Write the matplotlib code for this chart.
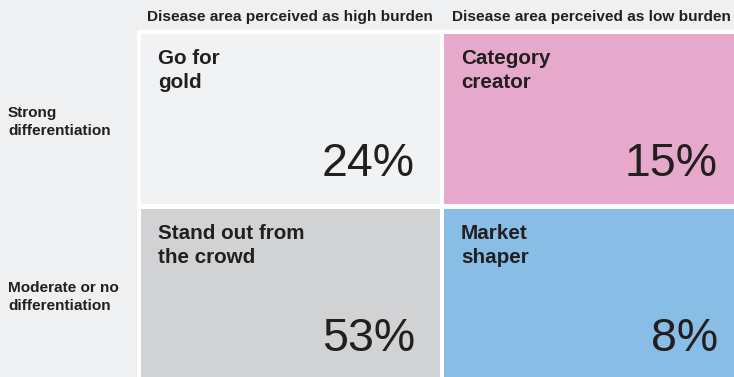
import matplotlib
matplotlib.use('Agg')
import matplotlib.pyplot as plt
from matplotlib.patches import Rectangle

plt.rcParams['font.family'] = ['Liberation Sans', 'DejaVu Sans']

col_headers = ['Disease area perceived as high burden', 'Disease area perceived as low burden']
row_headers = ['Strong\ndifferentiation', 'Moderate or no\ndifferentiation']
# segments, row-major: (row, col)
segment_names = [['Go for\ngold', 'Category\ncreator'],
                 ['Stand out from\nthe crowd', 'Market\nshaper']]
segment_shares = [[24, 15],
                  [53, 8]]
segment_colors = [['#f1f2f4', '#e7a9cb'],
                  ['#d1d2d4', '#88bde6']]

W, H = 734, 377
text_col = '#231f20'

fig = plt.figure(figsize=(W / 100, H / 100), dpi=100, facecolor='#eff0f2')
ax = fig.add_axes([0, 0, 1, 1])
ax.set_xlim(0, W)
ax.set_ylim(H, 0)
ax.axis('off')

# grid geometry in pixels
cell_x = [141, 444]
cell_y = [34, 209]
cell_w = 299
cell_h = 170
header_x = [147, 452]
row_y = [117.5, 292]


def put_lines(x, y, txt, step, **kw):
    for i, line in enumerate(txt.split('\n')):
        ax.text(x, y + i * step, line, va='baseline', color=text_col, **kw)


# white frame behind the cells
ax.add_patch(Rectangle((137, 30), W, H, facecolor='white', edgecolor='none'))

for r in range(2):
    for c in range(2):
        x0, y0 = cell_x[c], cell_y[r]
        ax.add_patch(Rectangle((x0, y0), cell_w, cell_h,
                               facecolor=segment_colors[r][c], edgecolor='none'))
        put_lines(x0 + 17, y0 + 30, segment_names[r][c], 24,
                  fontsize=14.9, fontweight='bold')
        ax.text(x0 + 274, y0 + 142, f'{segment_shares[r][c]}%', ha='right',
                va='baseline', fontsize=33.5, color=text_col)

for c, label in enumerate(col_headers):
    ax.text(header_x[c], 21.5, label, va='baseline',
            fontsize=11.1, fontweight='bold', color=text_col)

for r, label in enumerate(row_headers):
    put_lines(8, row_y[r], label, 17.5, fontsize=11.1, fontweight='bold')

fig.savefig('out.png', dpi=100, facecolor=fig.get_facecolor())
